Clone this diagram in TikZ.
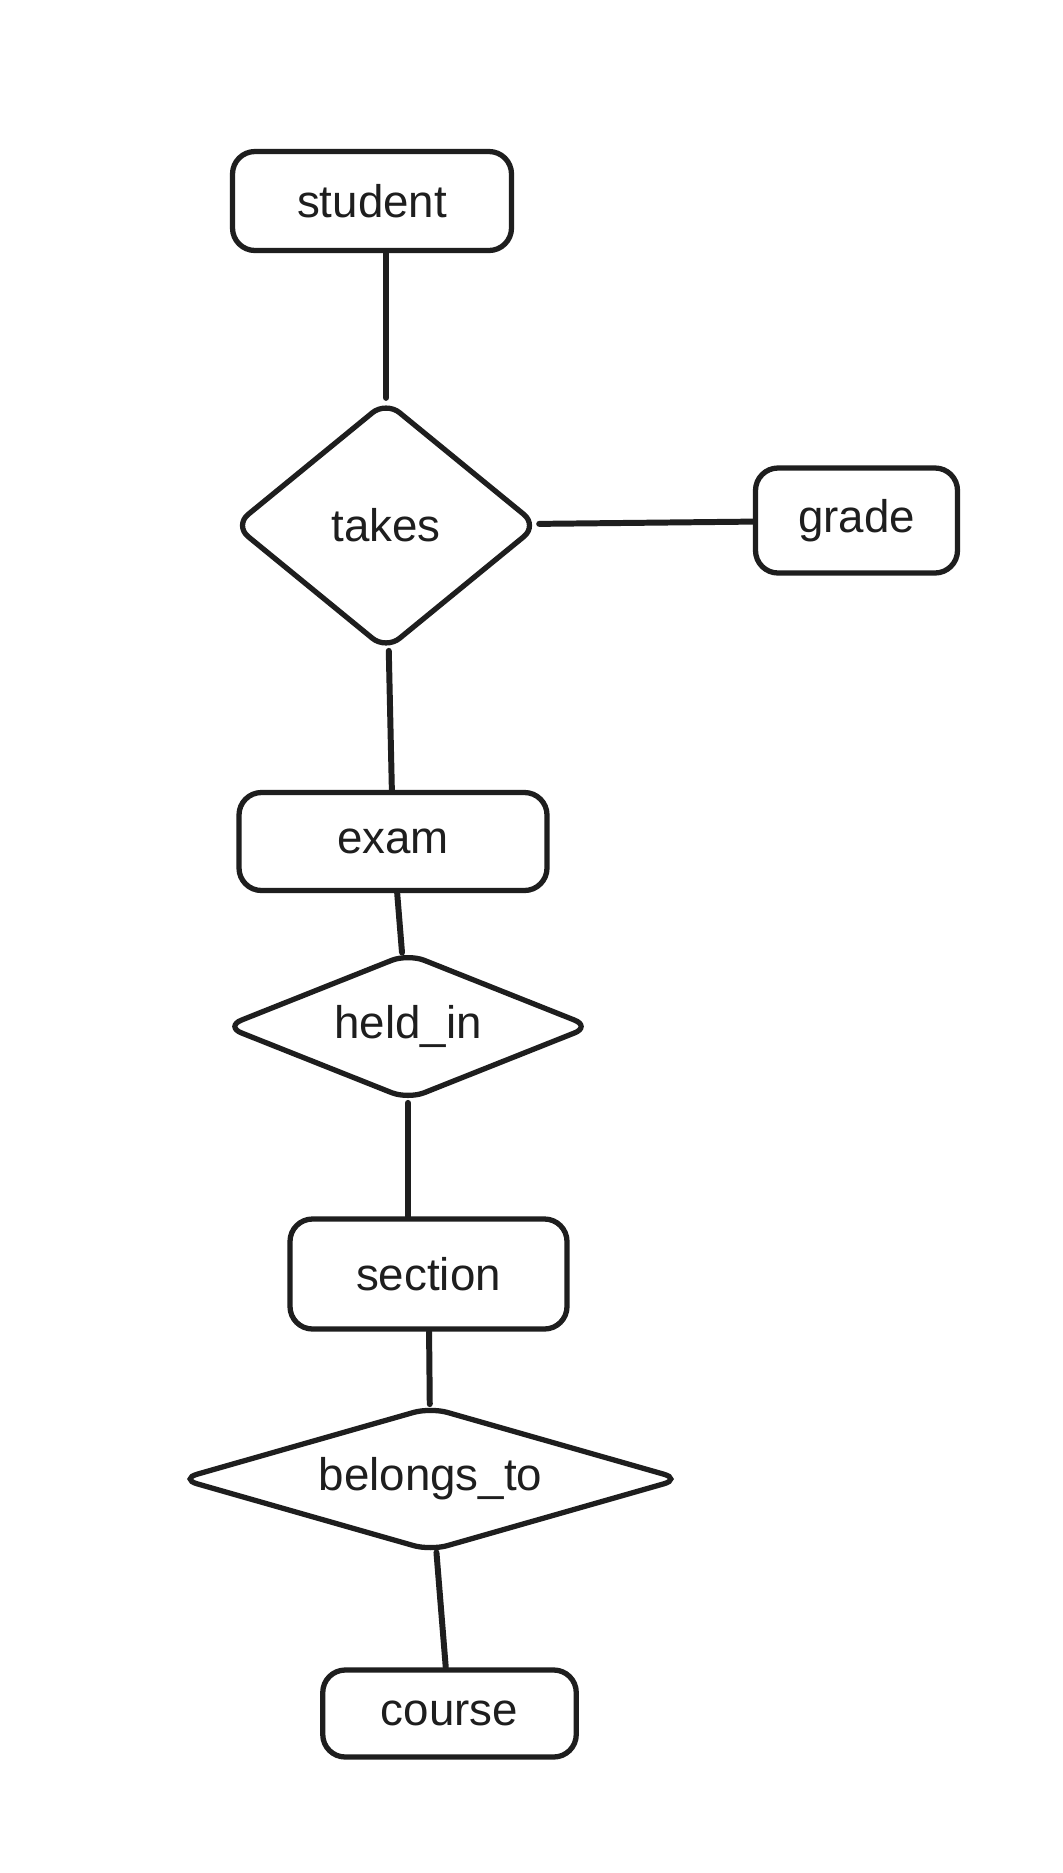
\documentclass[tikz,border=0pt]{standalone}
\usepackage{fontspec}
\setmainfont{Liberation Sans}
\usetikzlibrary{positioning,shapes.geometric}
\definecolor{ink}{HTML}{1E1E1E}
\tikzset{%
  link/.style     = { line width = 3.4pt, draw = #1, line cap = round },
  link/.default   = ink,
  ebox/.style     = { draw = #1, line width = 3pt, rounded corners = 0.45cm, align = center,
                      text = ink, font = \fontsize{26}{30}\selectfont, inner sep = 0pt },
  rel/.style      = { diamond, draw = #1, line width = 3pt, rounded corners = 0.35cm, align = center,
                      text = ink, font = \fontsize{26}{30}\selectfont, inner sep = 0pt }
}
\begin{document}
\begin{tikzpicture}
\useasboundingbox[fill=white] (0,0) rectangle (21.24,-37.46);

\node(S) [ebox=ink, minimum width = 5.58cm, minimum height = 1.98cm] at (7.44,-4.02)   {student};
\node(T) [rel=ink,  aspect = 1.22, minimum width = 6.10cm, minimum height = 5.00cm] at (7.72,-10.51) {takes};
\node(G) [ebox=ink, minimum width = 4.04cm, minimum height = 2.10cm] at (17.13,-10.41) {grade};
\node(E) [ebox=ink, minimum width = 6.16cm, minimum height = 1.96cm] at (7.86,-16.83)  {exam};
\node(H) [rel=ink,  aspect = 2.45, minimum width = 7.35cm, minimum height = 2.95cm] at (8.16,-20.53) {held\_in};
\node(N) [ebox=ink, minimum width = 5.54cm, minimum height = 2.20cm] at (8.57,-25.48)  {section};
\node(B) [rel=ink,  aspect = 3.45, minimum width = 10.05cm, minimum height = 2.90cm] at (8.61,-29.58) {belongs\_to};
\node(C) [ebox=ink, minimum width = 5.07cm, minimum height = 1.74cm] at (8.99,-34.27)  {course};

\draw[link] (T.north |- S.south) -- (T.north);
\draw[link] (T) -- (G);
\draw[link] (T) -- (E);
\draw[link] (E) -- (H);
\draw[link] (H.south) -- (H.south |- N.north);
\draw[link] (N) -- (B);
\draw[link] (B) -- (C);
\end{tikzpicture}
\end{document}
